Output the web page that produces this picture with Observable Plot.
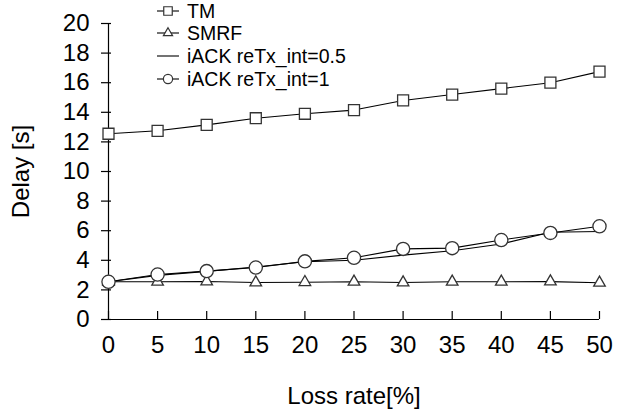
<!DOCTYPE html>
<html><head><meta charset="utf-8">
<script src="https://cdn.jsdelivr.net/npm/d3@7"></script>
<script src="https://cdn.jsdelivr.net/npm/@observablehq/plot@0.6"></script>
<style>
body{margin:0;background:#fff;}
#wrap{position:relative;width:626px;height:418px;font-family:"Liberation Sans",Arial,sans-serif;}
.row{position:absolute;left:155px;height:22px;display:flex;align-items:center;white-space:nowrap;font-size:19.5px;color:#000;}
.row svg{display:block;margin-right:2px;}
</style></head><body><div id="wrap"></div>
<script>
const lossRate = [0, 5, 10, 15, 20, 25, 30, 35, 40, 45, 50];
const tmDelay = [12.55, 12.75, 13.15, 13.6, 13.9, 14.15, 14.8, 15.2, 15.6, 16.0, 16.75];
const smrfDelay = [2.55, 2.55, 2.57, 2.5, 2.52, 2.55, 2.5, 2.55, 2.55, 2.56, 2.48];
const iack05Delay = [2.55, 2.98, 3.25, 3.55, 3.9, 4.0, 4.35, 4.65, 5.1, 5.9, 5.95];
const iack1Delay = [2.55, 3.04, 3.27, 3.51, 3.93, 4.17, 4.77, 4.82, 5.37, 5.85, 6.3];
const seriesNames = ["TM", "SMRF", "iACK reTx_int=0.5", "iACK reTx_int=1"];
const seriesSymbols = ["square", "triangle", null, "circle"];
const xTicks = [0, 5, 10, 15, 20, 25, 30, 35, 40, 45, 50];
const yTicks = [0, 2, 4, 6, 8, 10, 12, 14, 16, 18, 20];
const xLabel = "Loss rate[%]";
const yLabel = "Delay [s]";

const seriesValues = [tmDelay, smrfDelay, iack05Delay, iack1Delay];
const rows = seriesNames.flatMap((name, i) =>
  lossRate.map((x, j) => ({series: name, x, y: seriesValues[i][j], symbol: seriesSymbols[i]})));
const symbolSize = {square: 6.2, triangle: 4.3, circle: 6.6};

const chart = Plot.plot({
  width: 626,
  height: 418,
  marginLeft: 108,
  marginRight: 27,
  marginTop: 23,
  marginBottom: 99,
  style: {fontFamily: "'Liberation Sans', Arial, sans-serif", fontSize: "24px", background: "white", color: "#000"},
  x: {domain: [0, 50]},
  y: {domain: [0, 20]},
  marks: [
    Plot.ruleX([0], {stroke: "#000", strokeWidth: 1.2}),
    Plot.ruleY([0], {stroke: "#000", strokeWidth: 1.2}),
    Plot.axisY({ticks: yTicks, tickSize: 7, tickPadding: 12, label: yLabel, labelAnchor: "center", labelOffset: 97, labelArrow: "none", strokeWidth: 1.2}),
    Plot.axisY({ticks: yTicks, tickSize: -3, tickFormat: () => "", label: null, strokeWidth: 1.2}),
    Plot.axisX({ticks: xTicks, tickSize: 0, tickPadding: 16, label: xLabel, labelAnchor: "center", labelOffset: 84, labelArrow: "none"}),
    Plot.axisX({ticks: xTicks, tickSize: -8, tickFormat: () => "", label: null, strokeWidth: 1.2}),
    Plot.line(rows, {x: "x", y: "y", z: "series", stroke: "#000", strokeWidth: 1.1}),
    ...seriesSymbols.map((s, i) => s ? Plot.dot(rows.filter(d => d.series === seriesNames[i]), {
      x: "x", y: "y", symbol: s, r: symbolSize[s], fill: "white", stroke: "#333", strokeWidth: 1.3
    }) : null).filter(Boolean)
  ]
});
const wrap = document.getElementById("wrap");
wrap.appendChild(chart);

// legend overlay
const legCenters = [11, 33, 56, 79];
const legSize = {square: 4.8, triangle: 3.4, circle: 4.6};
seriesNames.forEach((name, i) => {
  const row = document.createElement("div");
  row.className = "row";
  row.style.top = (legCenters[i] - 11) + "px";
  const svg = d3.create("svg").attr("width", 30).attr("height", 22);
  svg.append("line").attr("x1", 2).attr("x2", 24).attr("y1", 11).attr("y2", 11).attr("stroke", "#000").attr("stroke-width", 1.1);
  const s = seriesSymbols[i];
  if (s) {
    const sym = {square: d3.symbolSquare, triangle: d3.symbolTriangle, circle: d3.symbolCircle}[s];
    svg.append("path").attr("transform", "translate(13,11)")
      .attr("d", d3.symbol(sym, Math.PI * legSize[s] ** 2)())
      .attr("fill", "white").attr("stroke", "#333").attr("stroke-width", 1.2);
  }
  row.appendChild(svg.node());
  const span = document.createElement("span");
  span.textContent = name;
  row.appendChild(span);
  wrap.appendChild(row);
});
</script></body></html>
